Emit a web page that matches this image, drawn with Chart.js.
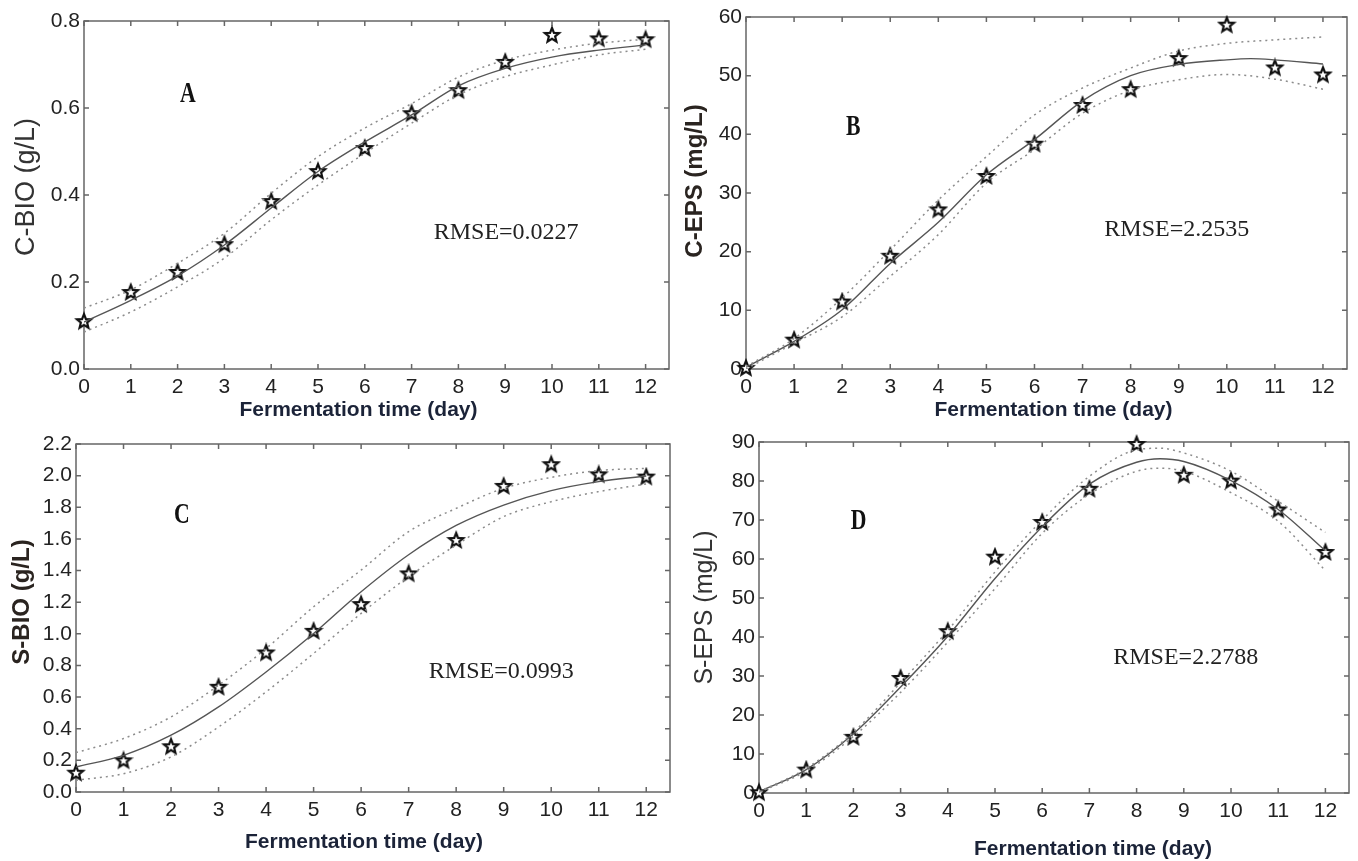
<!DOCTYPE html>
<html>
<head>
<meta charset="utf-8">
<script src="https://cdn.jsdelivr.net/npm/chart.js@4.4.1/dist/chart.umd.min.js"></script>
<style>
  body { margin: 0; background: #fff; }
  canvas { position: absolute; }
</style>
</head>
<body>
<canvas id="panelA" width="679" height="425" style="left:0;top:0"></canvas>
<canvas id="panelB" width="679" height="425" style="left:679px;top:0"></canvas>
<canvas id="panelC" width="679" height="436" style="left:0;top:425px"></canvas>
<canvas id="panelD" width="679" height="436" style="left:679px;top:425px"></canvas>
<script>
// days of fermentation and the tick values
const days = [0, 1, 2, 3, 4, 5, 6, 7, 8, 9, 10, 11, 12];
const xTicks = [0, 1, 2, 3, 4, 5, 6, 7, 8, 9, 10, 11, 12];

// A: C-BIO (g/L)
const aTicks = [0, 0.2, 0.4, 0.6, 0.8];
const aObs = [0.110, 0.177, 0.223, 0.287, 0.386, 0.455, 0.508, 0.588, 0.641, 0.706, 0.768, 0.760, 0.758];
const aFit = [0.108, 0.158, 0.214, 0.285, 0.370, 0.454, 0.522, 0.584, 0.651, 0.691, 0.717, 0.733, 0.745];
const aUp  = [0.140, 0.182, 0.243, 0.312, 0.404, 0.488, 0.554, 0.610, 0.671, 0.710, 0.733, 0.749, 0.758];
const aLow = [0.085, 0.131, 0.189, 0.255, 0.343, 0.423, 0.496, 0.565, 0.630, 0.672, 0.699, 0.722, 0.735];

// B: C-EPS (mg/L)
const bTicks = [0, 10, 20, 30, 40, 50, 60];
const bObs = [0.2, 5.0, 11.5, 19.3, 27.2, 32.9, 38.4, 45.0, 47.7, 53.0, 58.7, 51.4, 50.2];
const bFitDays = [0, 1, 2, 3, 4, 5, 6, 7, 8, 9, 10, 10.5, 11, 12];
const bFit = [0.3, 4.7, 10.1, 18.0, 25.0, 33.1, 39.1, 45.7, 50.0, 51.9, 52.7, 52.9, 52.7, 52.0];
const bUp  = [0.4, 5.2, 12.1, 20.3, 28.8, 36.2, 43.3, 47.9, 51.3, 54.2, 55.5, 56.1, 56.6];
const bLow = [0.0, 4.4, 8.9, 15.8, 22.9, 31.7, 37.4, 43.6, 47.5, 49.3, 50.2, 49.4, 47.7];

// C: S-BIO (g/L)
const cTicks = [0, 0.2, 0.4, 0.6, 0.8, 1.0, 1.2, 1.4, 1.6, 1.8, 2.0, 2.2];
const cObs = [0.122, 0.200, 0.289, 0.665, 0.882, 1.019, 1.188, 1.382, 1.593, 1.935, 2.072, 2.008, 1.994];
const cFit = [0.158, 0.232, 0.359, 0.538, 0.759, 1.002, 1.266, 1.500, 1.685, 1.814, 1.905, 1.962, 1.998];
const cUp  = [0.249, 0.338, 0.475, 0.675, 0.907, 1.171, 1.403, 1.646, 1.793, 1.920, 1.989, 2.032, 2.046];
const cLow = [0.074, 0.116, 0.222, 0.411, 0.633, 0.876, 1.129, 1.361, 1.561, 1.741, 1.835, 1.899, 1.947];

// D: S-EPS (mg/L)
const dTicks = [0, 10, 20, 30, 40, 50, 60, 70, 80, 90];
const dObs = [0.2, 6.0, 14.4, 29.5, 41.5, 60.6, 69.5, 78.0, 89.5, 81.6, 80.1, 72.7, 61.8];
const dFitDays = [0, 1, 2, 3, 4, 5, 6, 7, 8, 8.5, 9, 10, 11, 12];
const dFit = [0.3, 6.0, 15.2, 27.2, 40.2, 55.0, 68.3, 79.2, 84.8, 85.7, 85.0, 80.1, 72.7, 62.1];
const dUp  = [0.3, 6.3, 15.6, 28.3, 41.7, 56.7, 70.0, 81.2, 88.0, 88.4, 87.2, 82.5, 74.8, 66.8];
const dLow = [0.2, 5.6, 14.5, 25.8, 38.7, 52.4, 66.6, 76.6, 82.5, 83.3, 82.5, 77.0, 69.7, 57.0];

Chart.defaults.font.family = "'Liberation Sans', Arial, sans-serif";

// hollow five-point star used as marker
function makeStar() {
    const c = document.createElement('canvas');
    c.width = 20; c.height = 20;
    const g = c.getContext('2d');
    g.beginPath();
    for (let i = 0; i < 10; i++) {
        const r = i % 2 === 0 ? 7.5 : 3.3;
        const a = -Math.PI / 2 + i * Math.PI / 5;
        g.lineTo(10 + r * Math.cos(a), 10.5 + r * Math.sin(a));
    }
    g.closePath();
    g.fillStyle = '#fff';
    g.fill();
    g.lineWidth = 2.2;
    g.strokeStyle = '#111';
    g.stroke();
    return c;
}
const star = makeStar();

const zip = (xs, ys) => ys.map((v, i) => ({ x: xs[i], y: v }));

// frame with inward ticks on all sides, plus the panel texts
const framePlugin = {
    id: 'frame',
    beforeDatasetsDraw(chart, args, o) {
        const { ctx, chartArea: a, scales: { x, y } } = chart;
        ctx.save();
        ctx.strokeStyle = '#666';
        ctx.lineWidth = 1.5;
        ctx.strokeRect(a.left, a.top, a.right - a.left, a.bottom - a.top);
        ctx.beginPath();
        x.ticks.forEach(t => {
            const px = x.getPixelForValue(t.value);
            ctx.moveTo(px, a.bottom); ctx.lineTo(px, a.bottom - 5);
            ctx.moveTo(px, a.top); ctx.lineTo(px, a.top + 5);
        });
        y.ticks.forEach(t => {
            const py = y.getPixelForValue(t.value);
            ctx.moveTo(a.left, py); ctx.lineTo(a.left + 5, py);
            ctx.moveTo(a.right, py); ctx.lineTo(a.right - 5, py);
        });
        ctx.stroke();

        ctx.textAlign = 'center';
        ctx.textBaseline = 'middle';
        ctx.fillStyle = '#111';

        // panel letter, condensed serif
        ctx.save();
        ctx.translate(x.getPixelForValue(o.letterAt[0]), y.getPixelForValue(o.letterAt[1]));
        ctx.scale(0.75, 1);
        ctx.font = "bold 29px 'Liberation Serif', 'Times New Roman', serif";
        ctx.fillText(o.letter, 0, 0);
        ctx.restore();

        ctx.font = "24px 'Liberation Serif', 'Times New Roman', serif";
        ctx.fillStyle = '#222';
        ctx.fillText(o.rmse, x.getPixelForValue(o.rmseAt[0]), y.getPixelForValue(o.rmseAt[1]));

        // axis titles
        ctx.font = "bold 21px 'Liberation Sans', Arial, sans-serif";
        ctx.fillStyle = '#1b2338';
        ctx.fillText('Fermentation time (day)', (a.left + a.right) / 2 + o.xTitle[0], a.bottom + o.xTitle[1]);

        ctx.save();
        ctx.translate(a.left - o.yTitle[0], (a.top + a.bottom) / 2 + o.yTitle[1]);
        ctx.rotate(-Math.PI / 2);
        ctx.font = (o.yBold ? 'bold ' : '') + o.ySize + "px 'Liberation Sans', Arial, sans-serif";
        ctx.fillStyle = o.yBold ? '#2a2420' : '#333';
        ctx.fillText(o.yLabel, 0, 0);
        ctx.restore();

        ctx.restore();
    }
};

function makePanel(id, p) {
    const lineStyle = { pointRadius: 0, cubicInterpolationMode: 'monotone', fill: false };
    return new Chart(document.getElementById(id), {
        type: 'line',
        data: {
            datasets: [
                { ...lineStyle, data: zip(p.bandDays, p.up), borderColor: '#8c8c8c', borderWidth: 1.5, borderDash: [2, 4] },
                { ...lineStyle, data: zip(p.bandDays, p.low), borderColor: '#8c8c8c', borderWidth: 1.5, borderDash: [2, 4] },
                { ...lineStyle, data: zip(p.fitDays, p.fit), borderColor: '#555', borderWidth: 1.4 },
                { data: zip(days, p.obs), showLine: false, pointStyle: star, pointRadius: 8, clip: false }
            ]
        },
        options: {
            responsive: false,
            animation: false,
            events: [],
            layout: { padding: { left: 0, top: p.top, right: p.right, bottom: 0 } },
            plugins: {
                legend: { display: false },
                tooltip: { enabled: false },
                frame: p.text
            },
            scales: {
                x: {
                    type: 'linear', min: 0, max: 12.5,
                    afterBuildTicks: s => { s.ticks = xTicks.map(v => ({ value: v })); },
                    afterFit: s => { s.height = p.xh; },
                    grid: { display: false, drawTicks: false },
                    border: { display: false },
                    ticks: { padding: 6, color: '#222', font: { size: 21 }, maxRotation: 0, autoSkip: false }
                },
                y: {
                    type: 'linear', min: p.yTicks[0], max: p.yTicks[p.yTicks.length - 1],
                    afterBuildTicks: s => { s.ticks = p.yTicks.map(v => ({ value: v })); },
                    afterFit: s => { s.width = p.yw; },
                    grid: { display: false, drawTicks: false },
                    border: { display: false },
                    ticks: { padding: 4, color: '#222', font: { size: 21 }, autoSkip: false,
                             callback: v => p.dec ? v.toFixed(1) : String(v) }
                }
            }
        },
        plugins: [framePlugin]
    });
}

makePanel('panelA', {
    obs: aObs, fitDays: days, fit: aFit, bandDays: days, up: aUp, low: aLow,
    yTicks: aTicks, dec: true, yw: 84, xh: 56, top: 21, right: 10,
    text: { letter: 'A', letterAt: [2.22, 0.63], rmse: 'RMSE=0.0227', rmseAt: [9.02, 0.313],
            xTitle: [-18, 41], yTitle: [57, -8], yLabel: 'C-BIO (g/L)', ySize: 27, yBold: false }
});

makePanel('panelB', {
    obs: bObs, fitDays: bFitDays, fit: bFit, bandDays: days, up: bUp, low: bLow,
    yTicks: bTicks, dec: false, yw: 67, xh: 56, top: 17, right: 11,
    text: { letter: 'B', letterAt: [2.23, 41.2], rmse: 'RMSE=2.2535', rmseAt: [8.96, 23.7],
            xTitle: [7, 41], yTitle: [51, -12], yLabel: 'C-EPS (mg/L)', ySize: 24, yBold: true }
});

makePanel('panelC', {
    obs: cObs, fitDays: days, fit: cFit, bandDays: days, up: cUp, low: cLow,
    yTicks: cTicks, dec: true, yw: 76, xh: 69, top: 19, right: 4,
    text: { letter: 'C', letterAt: [2.23, 1.75], rmse: 'RMSE=0.0993', rmseAt: [8.95, 0.76],
            xTitle: [-9, 50], yTitle: [54, -16], yLabel: 'S-BIO (g/L)', ySize: 24, yBold: true }
});

makePanel('panelD', {
    obs: dObs, fitDays: dFitDays, fit: dFit, bandDays: dFitDays, up: dUp, low: dLow,
    yTicks: dTicks, dec: false, yw: 80, xh: 68, top: 17, right: 6,
    text: { letter: 'D', letterAt: [2.11, 69.5], rmse: 'RMSE=2.2788', rmseAt: [9.04, 34.6],
            xTitle: [39, 56], yTitle: [54, -10], yLabel: 'S-EPS (mg/L)', ySize: 25, yBold: false }
});
</script>
</body>
</html>
